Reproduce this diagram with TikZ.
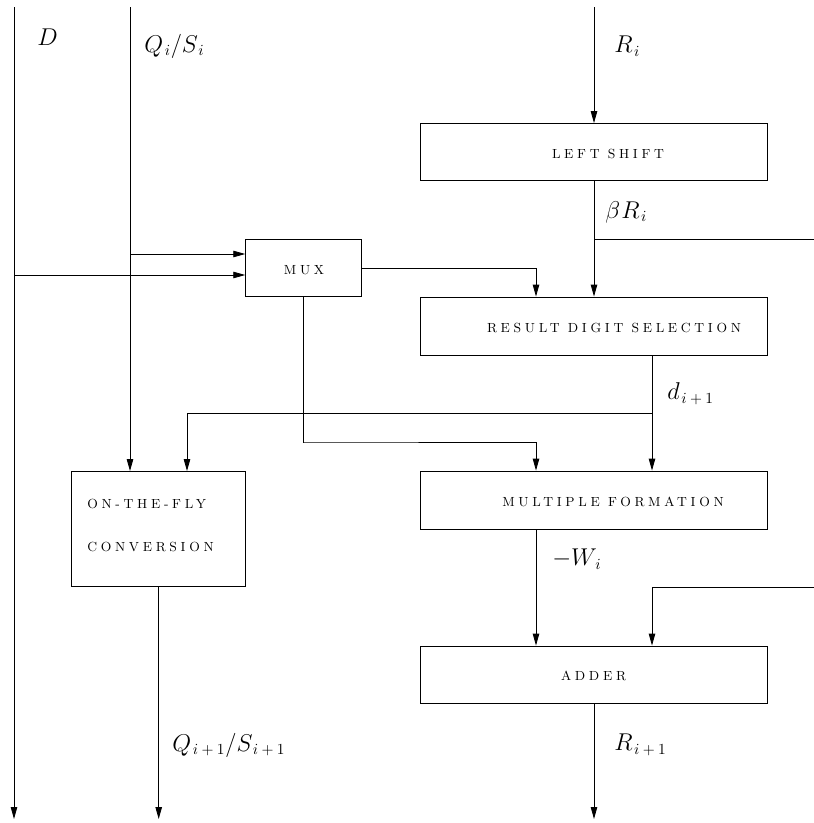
\documentclass[tikz,border=0pt]{standalone}
\usepackage{fontspec}
\usetikzlibrary{arrows.meta}
\newfontfamily\blockfont[LetterSpace=28]{Latin Modern Roman}
% subscript i+1 with widened operator spacing
\newcommand{\ipo}{\mskip2mu i\mskip4mu+\mskip4mu1}
\newcommand{\sbi}{\mskip2mu i}
\begin{document}
\begin{tikzpicture}[x=0.025cm,y=-0.025cm,
  wire/.style={line width=0.6pt},
  arr/.style={wire,-{Triangle[length=8.5pt,width=4.6pt]}},
  blk/.style={draw,line width=0.6pt,inner sep=0pt},
  wide/.style={blk,minimum width=8.675cm},
  btext/.style={inner sep=0pt,font=\blockfont\fontsize{9.4}{11}\selectfont},
  lbl/.style={inner sep=0pt,anchor=west,font=\fontsize{16}{19}\selectfont}]
\useasboundingbox (0,0) rectangle (814,823);

% processing blocks
\node[wide,minimum height=1.425cm] (ls)  at (593.5,152) {};
\node[wide,minimum height=1.45cm]  (rds) at (593.5,326) {};
\node[wide,minimum height=1.45cm]  (mf)  at (593.5,500) {};
\node[wide,minimum height=1.425cm] (add) at (593.5,674.5) {};
\node[blk,minimum width=2.9cm,minimum height=1.4375cm] (mux) at (303.7,268) {};
\node[blk,minimum width=4.35cm,minimum height=2.875cm] (otf) at (158.7,529) {};

% block captions
\node[btext] (tls)  at (608,154) {LEFT SHIFT};
\node[btext] (trds) at (614,328) {RESULT DIGIT SELECTION};
\node[btext] (tmf)  at (613,502) {MULTIPLE FORMATION};
\node[btext] (tadd) at (593.5,676) {ADDER};
\node[btext] (tmux) at (304,270) {MUX};
\node[btext,anchor=west] (totf1) at (87,504) {ON-THE-FLY};
\node[btext,anchor=west] (totf2) at (87,547) {CONVERSION};

% free ends of the wires
\coordinate (dtop) at (14,7);
\coordinate (dbot) at (14,819);
\coordinate (qtop) at (130,7);
\coordinate (rtop) at (594,7);
\coordinate (rbot) at (594,819);
\coordinate (qbot) at (158.7,819);
\coordinate (bsplit) at (594,239);
\coordinate (bout) at (814,239);
\coordinate (dsplit) at (652,413);
\coordinate (rin) at (814,587);

% divisor and quotient inputs
\draw[arr] (dtop) -- (dbot);
\draw[arr] (qtop) -- (qtop |- otf.north);
\draw[arr] (qtop |- 0,254) -- (mux.west |- 0,254);
\draw[arr] (dtop |- 0,275) -- (mux.west |- 0,275);

% residual path
\draw[arr] (rtop) -- (ls.north -| rtop);
\draw[arr] (ls.south -| rtop) -- (rds.north -| rtop);
\draw[wire] (bsplit) -- (bout);
\draw[arr] (mux.east) -| (rds.north -| 536,0);

% digit selection outputs
\draw[arr] (rds.south -| dsplit) -- (mf.north -| dsplit);
\draw[arr] (dsplit) -| (otf.north -| 187,0);
\draw[arr] (mux.south) |- (303,442) -| (mf.north -| 536,0);

% adder inputs and outputs
\draw[arr] (mf.south -| 536,0) -- (add.north -| 536,0);
\draw[arr] (rin) -| (add.north -| dsplit);
\draw[arr] (add.south -| rbot) -- (rbot);
\draw[arr] (otf.south) -- (qbot);

% signal labels
\node[lbl] (ld)   at (37,37)  {$D$};
\node[lbl] (lq)   at (144,46) {$Q_{\sbi}/S_{\sbi}$};
\node[lbl] (lr)   at (614,46) {$R_{\sbi}$};
\node[lbl] (lbr)  at (605,212) {$\beta\mskip1mu R_{\sbi}$};
\node[lbl] (ldd)  at (667,394) {$d_{\ipo}$};
\node[lbl] (lw)   at (552,559) {$-W_{\sbi}$};
\node[lbl] (lq1)  at (172,745) {$Q_{\ipo}/S_{\ipo}$};
\node[lbl] (lr1)  at (614,745) {$R_{\ipo}$};
\end{tikzpicture}
\end{document}
